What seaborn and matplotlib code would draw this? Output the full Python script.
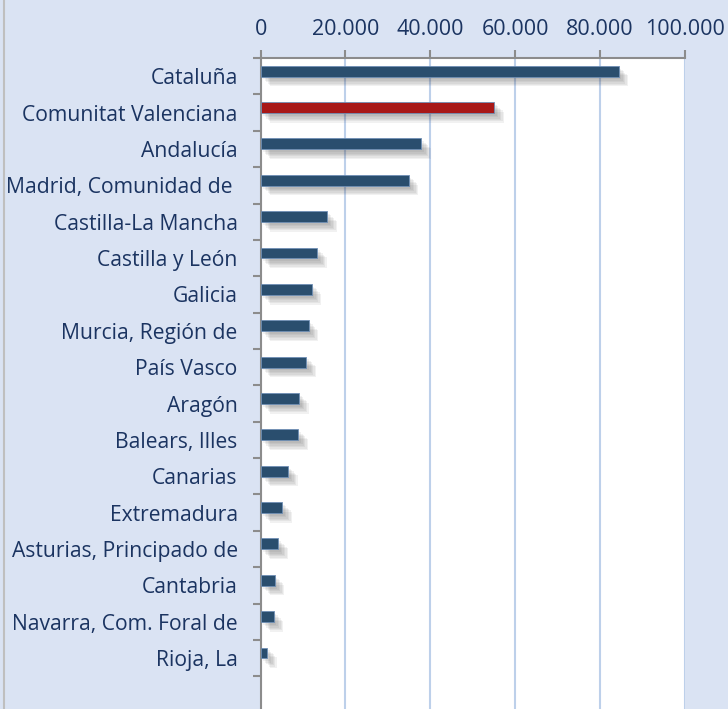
import numpy as np
import pandas as pd
import matplotlib.pyplot as plt
import matplotlib.patheffects as pe
from matplotlib.lines import Line2D
import seaborn as sns

# data
regions = [
    'Cataluña', 'Comunitat Valenciana', 'Andalucía', 'Madrid, Comunidad de ',
    'Castilla-La Mancha', 'Castilla y León', 'Galicia', 'Murcia, Región de',
    'País Vasco', 'Aragón', 'Balears, Illes', 'Canarias', 'Extremadura',
    'Asturias, Principado de', 'Cantabria', 'Navarra, Com. Foral de', 'Rioja, La',
]
values = [84400, 55100, 37900, 34900, 15700, 13300, 12000, 11300, 10800,
          9000, 8900, 6450, 5100, 4150, 3300, 3050, 1500]
highlight = 'Comunitat Valenciana'
x_ticks = [0, 20000, 40000, 60000, 80000, 100000]

bg = '#DAE3F3'
navy = '#1B3461'
bar_blue = '#1F4E79'
bar_red = '#C00000'

df = pd.DataFrame({'region': regions, 'value': values})
palette = {r: (bar_red if r == highlight else bar_blue) for r in regions}

sns.set_style('white')
plt.rcParams['font.family'] = ['Open Sans', 'DejaVu Sans']

fig = plt.figure(figsize=(7.28, 7.09), dpi=100, facecolor=bg)
ax = fig.add_axes([0.358, 0.0, 0.5825, 0.918])
ax.set_facecolor('white')

sns.barplot(data=df, x='value', y='region', hue='region', palette=palette,
            orient='h', width=0.3, legend=False, ax=ax, zorder=3)

# excel-style offset of bars inside their slot + soft (layered) shadow
shadow = [pe.SimplePatchShadow(offset=(d, -d), shadow_rgbFace='#404040', alpha=0.07)
          for d in (2, 3, 4, 5, 6, 7)]
for p in ax.patches:
    p.set_y(p.get_y() - 0.14)
    p.set_edgecolor('#6F8FB5')
    p.set_linewidth(0.6)
    p.set_path_effects(shadow + [pe.Normal()])

ax.set_xlim(0, 100000)
ax.set_ylim(17.4, -0.5)
ax.set_xticks(x_ticks)
ax.set_xticklabels(['0'] + [f'{t // 1000}.000' for t in x_ticks[1:]])
ax.set_yticks(np.arange(-0.5, 17.5, 1.0), minor=True)
ax.set_yticks(range(len(regions)))
ax.set_yticklabels(regions)

ax.xaxis.tick_top()
ax.xaxis.set_label_position('top')
ax.set_xlabel('')
ax.set_ylabel('')

ax.xaxis.grid(True, color='#BDD0EA', linewidth=1.5, zorder=0)
ax.yaxis.grid(False)

for side in ['right', 'bottom']:
    ax.spines[side].set_visible(False)
for side in ['top', 'left']:
    ax.spines[side].set_color('#8C8C8C')
    ax.spines[side].set_linewidth(1.5)

ax.tick_params(axis='x', which='major', top=True, length=6, width=1.5, color='#8C8C8C',
               labelsize=15.5, labelcolor=navy, pad=7)
ax.tick_params(axis='y', which='major', left=False, labelsize=15.2, labelcolor=navy, pad=13)
ax.tick_params(axis='y', which='minor', left=True, length=6, width=1.5, color='#8C8C8C')

# thin frame line at the left edge of the chart area
fig.add_artist(Line2D([0.005, 0.005], [0, 1], transform=fig.transFigure,
                      color='#BFBFBF', linewidth=1.5))

fig.savefig('out.png', dpi=100, facecolor=bg)
